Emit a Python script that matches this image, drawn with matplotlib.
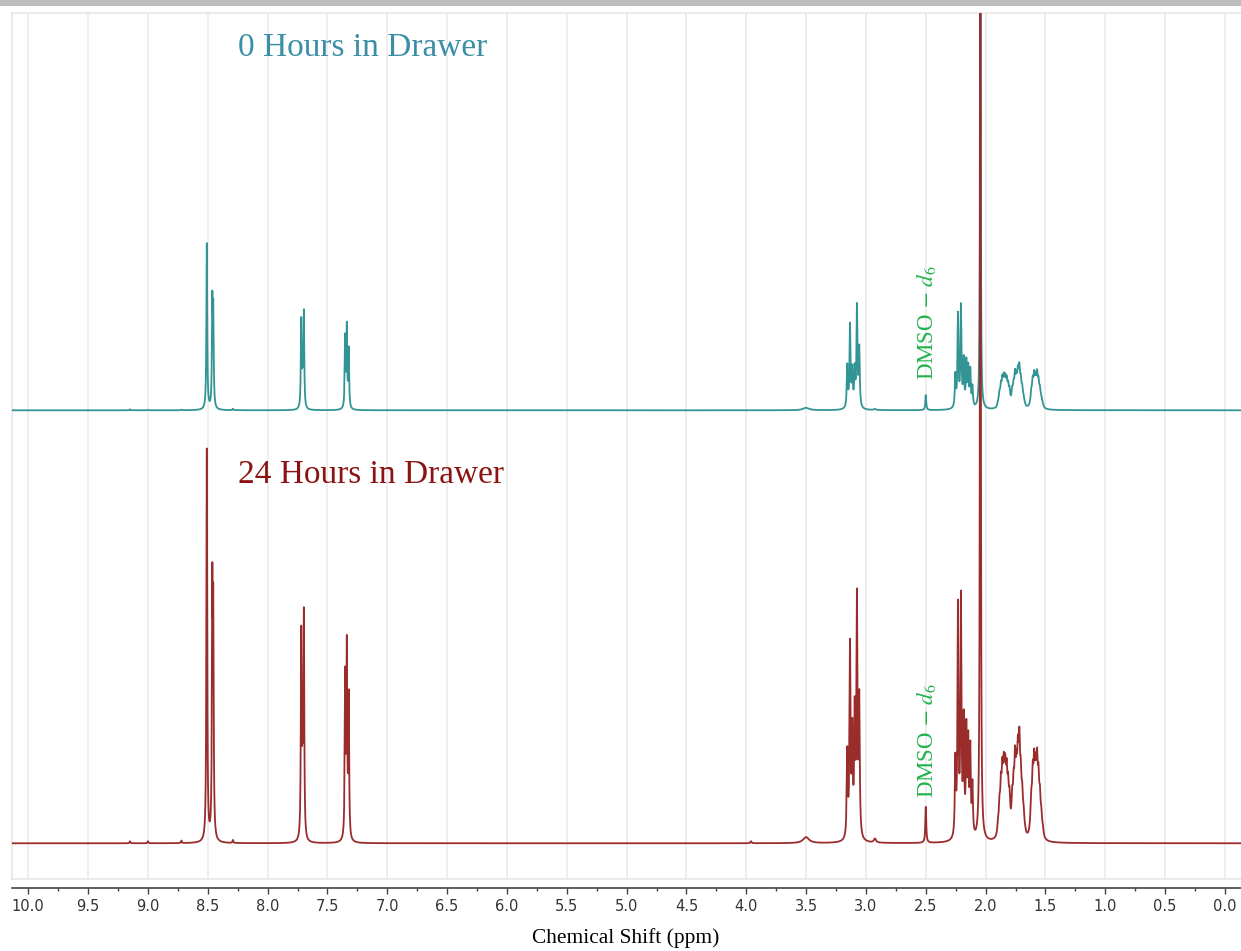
import numpy as np
import matplotlib
matplotlib.use("Agg")
import matplotlib.pyplot as plt
from matplotlib.patches import Rectangle
from matplotlib.ticker import FixedLocator

plt.rcParams['mathtext.fontset'] = 'stix'

# peak list: shift (ppm), half width (ppm), height 24 h, height 0 h
peak_shift = [9.15, 9.00, 8.72, 8.29,
              8.508, 8.462, 8.454,
              7.719, 7.708, 7.697,
              7.352, 7.338, 7.322,
              3.96, 3.50,
              3.156, 3.133, 3.114, 3.094, 3.075, 3.056,
              2.925, 2.500,
              2.253, 2.231, 2.206, 2.183, 2.161, 2.145, 2.128, 2.110,
              2.044,
              1.896, 1.884, 1.872, 1.860, 1.848, 1.836, 1.824, 1.812, 1.800,
              1.778, 1.766, 1.754, 1.742, 1.730, 1.718, 1.706, 1.694, 1.682, 1.670,
              1.630, 1.618, 1.606, 1.594, 1.582, 1.570, 1.558, 1.546, 1.534, 1.522]
peak_width = [0.004, 0.004, 0.004, 0.004,
              0.004, 0.004, 0.004,
              0.004, 0.004, 0.004,
              0.004, 0.004, 0.004,
              0.005, 0.03,
              0.005, 0.005, 0.005, 0.005, 0.005, 0.005,
              0.01, 0.0045,
              0.005, 0.005, 0.005, 0.005, 0.005, 0.005, 0.005, 0.005,
              0.003,
              0.007, 0.007, 0.007, 0.007, 0.007, 0.007, 0.007, 0.007, 0.007,
              0.007, 0.007, 0.007, 0.007, 0.007, 0.007, 0.007, 0.007, 0.007, 0.007,
              0.007, 0.007, 0.007, 0.007, 0.007, 0.007, 0.007, 0.007, 0.007, 0.007]
height_24h = [2, 2, 2.5, 3,
              392, 235, 210,
              203, 65, 222,
              160, 188, 140,
              2, 6,
              85, 190, 100, 120, 235, 135,
              4, 36,
              75, 228, 235, 112, 103, 90, 85, 50,
              1500,
              10, 26, 41, 51, 53, 51, 49, 38, 30,
              30, 38, 61, 47, 63, 76, 47, 32, 17, 3,
              3, 30, 51, 58, 49, 60, 47, 32, 17, 7]
height_0h = [1, 0.5, 0.5, 1.5,
             166, 100, 90,
             87, 28, 95,
             70, 80, 58,
             0, 2.5,
             42, 82, 36, 36, 100, 58,
             1, 15,
             32, 92, 100, 46, 44, 38, 36, 20,
             700,
             4, 11, 17, 21, 22, 21, 20, 16, 13,
             13, 16, 26, 20, 26, 31, 20, 14, 7, 1,
             1, 13, 21, 25, 20, 26, 20, 14, 7, 3]

top_offset = 433

ppm = np.linspace(-0.3, 10.3, 42000)


def spectrum(heights):
    y = np.zeros_like(ppm)
    for c, w, h in zip(peak_shift, peak_width, heights):
        y += h * w**2 / ((ppm - c)**2 + w**2)
    return y


W, H = 1241, 951
fig = plt.figure(figsize=(W / 100, H / 100), dpi=100)
ax = fig.add_axes([12 / W, 1 - 879.3 / H, 1 - 12 / W, (879.3 - 13.3) / H])

ax.plot(ppm, spectrum(height_0h) + top_offset, color='#329494', lw=1.3, zorder=3)
ax.plot(ppm, spectrum(height_24h), color='#9a2c2c', lw=1.3, zorder=4)

ax.set_xlim(10.136, -0.134)
ax.set_ylim(-36, 830)

ax.xaxis.set_major_locator(FixedLocator(np.arange(0, 10.01, 0.5)))
ax.xaxis.set_minor_locator(FixedLocator(np.arange(0.25, 10, 0.5)))
ax.set_xticklabels(['%.1f' % v for v in np.arange(0, 10.01, 0.5)])
ax.tick_params(axis='x', which='major', length=4.3, width=1, color='#444444',
               labelsize=10.5, labelcolor='#333333', pad=4)
ax.tick_params(axis='x', which='minor', length=2.2, width=1, color='#444444')
ax.set_yticks([])
ax.grid(axis='x', which='major', color='#ebebeb', lw=1.2, zorder=0)
ax.set_axisbelow(True)

for s in ['top', 'left']:
    ax.spines[s].set_color('#e6e6e6')
    ax.spines[s].set_linewidth(1.2)
ax.spines['right'].set_visible(False)
ax.spines['bottom'].set_position(('outward', 6))
ax.spines['bottom'].set_color('#444444')
ax.spines['bottom'].set_linewidth(1.2)
ax.plot([0, 1], [0, 0], transform=ax.transAxes, clip_on=False, color='#e6e6e6', lw=1.2)

ax.text(8.248, 796, "0 Hours in Drawer", color='#3a8fa6', fontsize=24,
        family='Liberation Serif', va='center', ha='left')
ax.text(8.248, 369, "24 Hours in Drawer", color='#8b1313', fontsize=24,
        family='Liberation Serif', va='center', ha='left')
for ly in [521, 103]:
    ax.text(2.49, ly, r"DMSO$\,-\,d_6$", color='#22b14c', fontsize=16.5,
            family='Liberation Serif', rotation=90, va='center', ha='center', zorder=5)

fig.text(626 / W, 1 - 938 / H, "Chemical Shift (ppm)", fontsize=15.4,
         family='Liberation Serif', ha='center', va='center')

fig.add_artist(Rectangle((0, 1 - 5.7 / H), 1, 5.7 / H, transform=fig.transFigure,
                         color='#bdbdbd', lw=0))

fig.savefig("out.png", dpi=100)
